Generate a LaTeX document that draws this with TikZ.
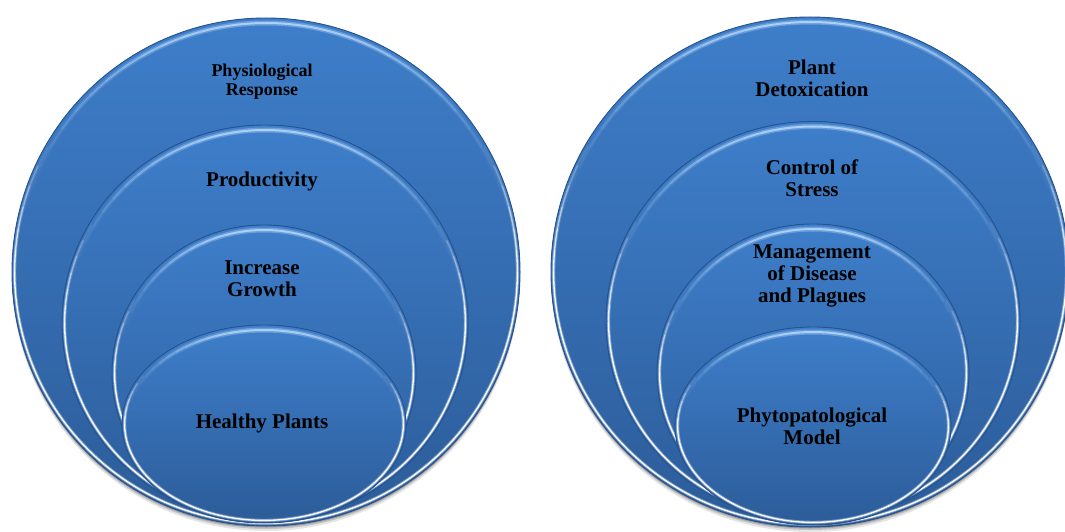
\documentclass[tikz,border=0pt]{standalone}
\usepackage{fontspec}
\setmainfont{Liberation Serif}
\definecolor{bluetop}{RGB}{62,126,202}
\definecolor{bluebot}{RGB}{44,92,153}
\definecolor{rimdark}{RGB}{38,84,145}
\definecolor{glow}{RGB}{190,222,252}
\newcommand\hlarc[5]{%
  \pgfmathsetmacro\hax{(#2)*cos(#4)}\pgfmathsetmacro\hay{(#3)*sin(#4)}%
  \draw[#1] (\hax,\hay) arc[start angle=#4, end angle=#5, x radius=#2, y radius=#3];}
\newcommand\glossyell[4]{%
  \fill[top color=bluetop, bottom color=bluebot] (#1,#2) ellipse [x radius=#3, y radius=#4];
  \begin{scope}[shift={(#1,#2)}]
    \pgfmathsetmacro\gxa{#3-5}\pgfmathsetmacro\gya{#4-5}%
    \pgfmathsetmacro\gxb{#3-2.6}\pgfmathsetmacro\gyb{#4-2.6}%
    \foreach \a in {0,5,...,355}{%
      \pgfmathsetmacro\ot{pow(max(0,sin(\a+2.5)),3)}%
      \pgfmathsetmacro\ow{min(1,max(0,1-2*sin(\a+2.5)))}%
      \pgfmathsetmacro\ota{0.35*\ot}\pgfmathsetmacro\otb{0.8*\ot}%
      \pgfmathsetmacro\owa{0.35*\ow}\pgfmathsetmacro\owb{0.95*\ow}%
      \hlarc{glow, opacity=\ota, line width=5pt}{\gxa}{\gya}{\a}{\a+5}
      \hlarc{glow, opacity=\otb, line width=2pt}{\gxa}{\gya}{\a}{\a+5}
      \hlarc{white, opacity=\owa, line width=3.2pt}{\gxb}{\gyb}{\a}{\a+5}
      \hlarc{white, opacity=\owb, line width=1.4pt}{\gxb}{\gyb}{\a}{\a+5}
    }
  \end{scope}
  \draw[rimdark, line width=0.9pt] (#1,#2) ellipse [x radius=#3, y radius=#4];
}
\newcommand\shadowell[4]{%
  \fill[black, opacity=0.10] (#1,#2-5) ellipse [x radius=#3, y radius=#4];
  \fill[black, opacity=0.15] (#1,#2-3) ellipse [x radius=#3, y radius=#4];
  \fill[black, opacity=0.2] (#1,#2-1.5) ellipse [x radius=#3, y radius=#4];
}
\begin{document}
\begin{tikzpicture}[x=1pt,y=1pt,
  lbl/.style={font=\bfseries\fontsize{21}{22}\selectfont, align=center, text=black, inner sep=0pt},
  lblsmall/.style={font=\bfseries\fontsize{18}{19}\selectfont, align=center, text=black, inner sep=0pt}]
\useasboundingbox (0,0) rectangle (1065,531);
\clip (0,0) rectangle (1065,531);
\fill[white] (0,0) rectangle (1065,531);
% left set
\shadowell{266}{259}{254}{254}
\glossyell{266}{259}{254}{254}
\glossyell{265}{208}{203}{198}
\glossyell{264}{158}{152}{148}
\glossyell{264}{107}{142}{99}
% right set
\shadowell{810}{259}{259}{255}
\glossyell{810}{259}{259}{255}
\glossyell{813}{209.5}{207}{200}
\glossyell{813}{158}{156}{149}
\glossyell{813}{105}{138}{99}
% labels
\node[lblsmall] (phys) at (262,449.5) {Physiological\\Response};
\node[lbl] (prod) at (262,350) {Productivity};
\node[lbl] (incr) at (262,252.5) {Increase\\Growth};
\node[lbl] (heal) at (262,108) {Healthy Plants};
\node[lbl] (detox) at (812,453) {Plant\\Detoxication};
\node[lbl] (ctrl) at (812,353) {Control of\\Stress};
\node[lbl] (mgmt) at (812,255) {Management\\of Disease\\and Plagues};
\node[lbl] (phyto) at (812,105) {Phytopatological\\Model};
\end{tikzpicture}
\end{document}
